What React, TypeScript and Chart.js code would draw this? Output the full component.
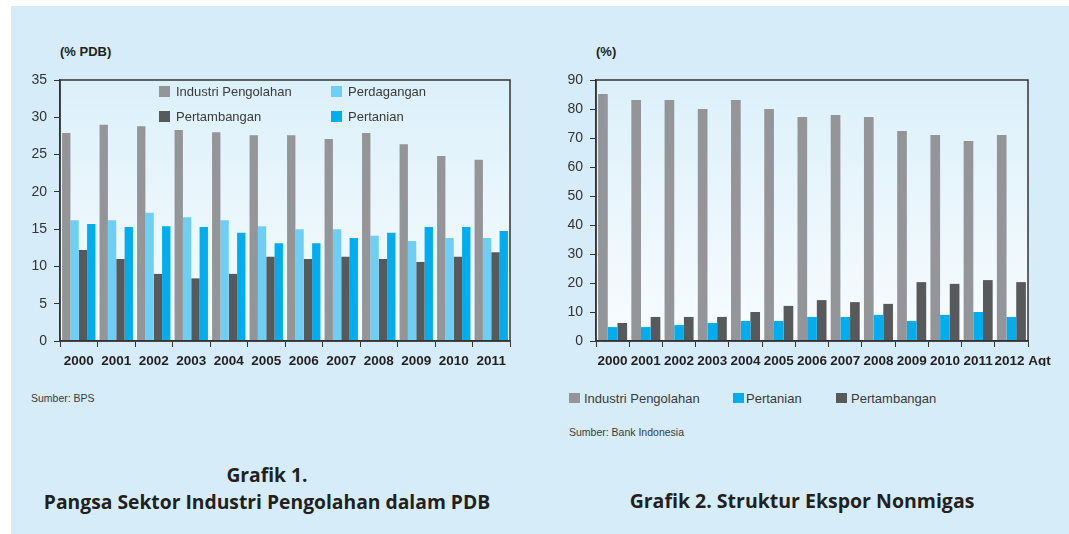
import React, { useEffect, useRef } from "react";
import { Chart, registerables } from "chart.js";

Chart.register(...registerables);

// ---------- Data: Grafik 1 (% PDB) ----------
const years1 = ["2000", "2001", "2002", "2003", "2004", "2005", "2006", "2007", "2008", "2009", "2010", "2011"];
const industri1 = [27.9, 29.0, 28.8, 28.3, 28.0, 27.6, 27.6, 27.1, 27.9, 26.4, 24.8, 24.3];
const perdagangan1 = [16.2, 16.2, 17.2, 16.6, 16.2, 15.4, 15.0, 15.0, 14.1, 13.4, 13.8, 13.8];
const pertambangan1 = [12.2, 11.0, 9.0, 8.4, 9.0, 11.3, 11.0, 11.3, 11.0, 10.6, 11.3, 11.9];
const pertanian1 = [15.7, 15.3, 15.4, 15.3, 14.5, 13.1, 13.1, 13.8, 14.5, 15.3, 15.3, 14.75];
const yTicks1 = [0, 5, 10, 15, 20, 25, 30, 35];

// ---------- Data: Grafik 2 (%) ----------
const years2 = ["2000", "2001", "2002", "2003", "2004", "2005", "2006", "2007", "2008", "2009", "2010", "2011", "2012 Agt"];
const industri2 = [85.2, 83.1, 83.1, 80.0, 83.1, 80.0, 77.2, 77.9, 77.2, 72.4, 71.0, 69.0, 71.0];
const pertanian2 = [4.8, 4.8, 5.5, 6.2, 6.9, 6.9, 8.3, 8.3, 9.0, 6.9, 9.0, 10.0, 8.3];
const pertambangan2 = [6.2, 8.3, 8.3, 8.3, 10.0, 12.1, 14.1, 13.4, 12.8, 20.3, 19.7, 21.0, 20.3];
const yTicks2 = [0, 10, 20, 30, 40, 50, 60, 70, 80, 90];

const C_IND = "#939598";
const C_DAG = "#6dcff6";
const C_TAMB = "#58595b";
const C_TANI = "#00aeef";
const BG = "#d6edf9";
const AXIS = "#333333";
const TXT = "#231f20";
const FONT = "'Liberation Sans', Arial, sans-serif";
const TITLE_FONT = "'Open Sans', 'Liberation Sans', sans-serif";

const plotPlugin = {
  id: "plotFrame",
  beforeDraw(chart: any) {
    const { ctx, chartArea: a } = chart;
    if (!a) return;
    const g = ctx.createLinearGradient(0, a.top, 0, a.bottom);
    g.addColorStop(0, "#dcf0fa");
    g.addColorStop(1, "#f8fcfe");
    ctx.save();
    ctx.fillStyle = g;
    ctx.fillRect(a.left, a.top, a.right - a.left, a.bottom - a.top);
    ctx.restore();
  },
  afterDatasetsDraw(chart: any) {
    const { ctx, chartArea: a } = chart;
    ctx.save();
    ctx.strokeStyle = AXIS;
    ctx.lineWidth = 1.5;
    ctx.strokeRect(a.left, a.top, a.right - a.left, a.bottom - a.top);
    ctx.restore();
  },
};

type DS = { label: string; data: number[]; color: string };

function BarChart(props: {
  labels: string[];
  datasets: DS[];
  yTicks: number[];
  yWidth: number;
  padRight: number;
  catPct: number;
  width: number;
  height: number;
  left: number;
  top: number;
  pad?: boolean;
}) {
  const ref = useRef<HTMLCanvasElement>(null);
  useEffect(() => {
    if (!ref.current) return;
    const yMax = props.yTicks[props.yTicks.length - 1];
    const chart = new Chart(ref.current, {
      type: "bar",
      data: {
        labels: props.labels,
        datasets: props.datasets.map((d) => ({
          label: d.label,
          data: d.data,
          backgroundColor: d.color,
          borderWidth: 0,
          categoryPercentage: props.catPct,
          barPercentage: 1.0,
        })),
      },
      options: {
        responsive: false,
        animation: false,
        devicePixelRatio: 1,
        layout: { padding: { left: 0, top: 20, right: props.padRight, bottom: 14 } },
        plugins: { legend: { display: false }, tooltip: { enabled: false } },
        scales: {
          x: {
            offset: true,
            grid: { display: true, drawOnChartArea: false, drawTicks: true, tickLength: 6, color: AXIS, lineWidth: 1, offset: true },
            border: { display: true, color: AXIS, width: 1.5, z: 1 },
            ticks: {
              autoSkip: false,
              maxRotation: 0,
              minRotation: 0,
              padding: 6,
              color: TXT,
              font: { family: FONT, size: 13.5, weight: "bold" },
              callback: function (this: any, _v: any, i: number) {
                const l = props.labels[i];
                return props.pad && l.includes(" ") ? "      " + l : l;
              },
            },
            afterFit: (s: any) => {
              s.height = 25;
            },
          },
          y: {
            min: 0,
            max: yMax,
            grid: { display: true, drawOnChartArea: false, drawTicks: true, tickLength: 6, color: AXIS, lineWidth: 1 },
            border: { display: true, color: AXIS, width: 1.5, z: 1 },
            ticks: { padding: 7, color: "#333", font: { family: FONT, size: 14 } },
            afterBuildTicks: (s: any) => {
              s.ticks = props.yTicks.map((v) => ({ value: v }));
            },
            afterFit: (s: any) => {
              s.width = props.yWidth;
            },
          },
        },
      },
      plugins: [plotPlugin],
    } as any);
    return () => chart.destroy();
  }, []);
  return (
    <canvas
      ref={ref}
      width={props.width}
      height={props.height}
      style={{ position: "absolute", left: props.left, top: props.top, width: props.width, height: props.height }}
    />
  );
}

function Txt(p: { x: number; y: number; size: number; bold?: boolean; children: any; family?: string; color?: string }) {
  const lh = Math.round(p.size * 1.3);
  return (
    <div
      style={{
        position: "absolute",
        left: p.x,
        top: p.y - lh / 2,
        fontSize: p.size,
        lineHeight: lh + "px",
        fontFamily: p.family || FONT,
        fontWeight: p.bold ? "bold" : "normal",
        color: p.color || "#3a3a3a",
        whiteSpace: "nowrap",
      }}
    >
      {p.children}
    </div>
  );
}

function CenterTxt(p: { cx: number; y: number; size: number; children: any }) {
  const lh = Math.round(p.size * 1.3);
  return (
    <div
      style={{
        position: "absolute",
        left: p.cx - 300,
        width: 600,
        top: p.y - lh / 2,
        textAlign: "center",
        fontSize: p.size,
        lineHeight: lh + "px",
        fontFamily: TITLE_FONT,
        fontWeight: "bold",
        color: TXT,
        whiteSpace: "nowrap",
      }}
    >
      {p.children}
    </div>
  );
}

function Sq(p: { x: number; y: number; s: number; color: string }) {
  return <div style={{ position: "absolute", left: p.x, top: p.y, width: p.s, height: p.s, background: p.color }} />;
}

export default function App() {
  const ds1: DS[] = [
    { label: "Industri Pengolahan", data: industri1, color: C_IND },
    { label: "Perdagangan", data: perdagangan1, color: C_DAG },
    { label: "Pertambangan", data: pertambangan1, color: C_TAMB },
    { label: "Pertanian", data: pertanian1, color: C_TANI },
  ];
  const ds2: DS[] = [
    { label: "Industri Pengolahan", data: industri2, color: C_IND },
    { label: "Pertanian", data: pertanian2, color: C_TANI },
    { label: "Pertambangan", data: pertambangan2, color: C_TAMB },
  ];
  return (
    <div style={{ position: "absolute", left: 0, top: 0, width: 1069, height: 534, background: "#fff", overflow: "hidden" }}>
      <div style={{ position: "absolute", left: 11, top: 6, width: 1058, height: 528, background: BG }} />

      {/* Grafik 1 */}
      <Txt x={60} y={51} size={13} bold color={TXT}>(% PDB)</Txt>
      <BarChart labels={years1} datasets={ds1} yTicks={yTicks1} yWidth={49} padRight={30} catPct={0.89} width={529} height={320} left={11} top={60} />
      <Sq x={159} y={86} s={11} color={C_IND} />
      <Txt x={176} y={91.5} size={13}>Industri Pengolahan</Txt>
      <Sq x={331} y={86} s={11} color={C_DAG} />
      <Txt x={348} y={91.5} size={13}>Perdagangan</Txt>
      <Sq x={159} y={110.5} s={11} color={C_TAMB} />
      <Txt x={176} y={116} size={13}>Pertambangan</Txt>
      <Sq x={331} y={110.5} s={11} color={C_TANI} />
      <Txt x={348} y={116} size={13}>Pertanian</Txt>
      <Txt x={31} y={398} size={10.5}>Sumber: BPS</Txt>
      <CenterTxt cx={267} y={474} size={19.3}>Grafik 1.</CenterTxt>
      <CenterTxt cx={267} y={501.5} size={19.3}>Pangsa Sektor Industri Pengolahan dalam PDB</CenterTxt>

      {/* Grafik 2 */}
      <Txt x={596} y={51} size={13} bold color={TXT}>(%)</Txt>
      <BarChart labels={years2} datasets={ds2} yTicks={yTicks2} yWidth={56} padRight={41} catPct={0.873} width={529} height={320} left={540} top={60} pad />
      <Sq x={569} y={392.5} s={10.5} color={C_IND} />
      <Txt x={584} y={398} size={13}>Industri Pengolahan</Txt>
      <Sq x={733} y={392.5} s={10.5} color={C_TANI} />
      <Txt x={746} y={398} size={13}>Pertanian</Txt>
      <Sq x={836} y={392.5} s={10.5} color={C_TAMB} />
      <Txt x={851} y={398} size={13}>Pertambangan</Txt>
      <Txt x={569} y={432} size={10.5}>Sumber: Bank Indonesia</Txt>
      <CenterTxt cx={802} y={500} size={19.5}>Grafik 2. Struktur Ekspor Nonmigas</CenterTxt>
    </div>
  );
}
